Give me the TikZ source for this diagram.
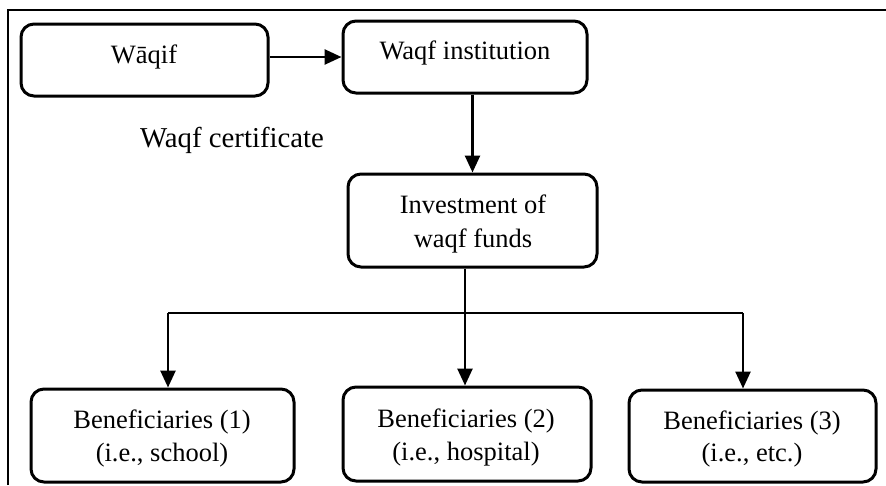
\documentclass[tikz,border=0pt]{standalone}
\usepackage{fontspec}
\setmainfont{Liberation Serif}
\usetikzlibrary{arrows.meta}
\begin{document}
\begin{tikzpicture}[x=1pt,y=-1pt,
  box/.style={draw, line width=3pt, rounded corners=13pt, inner sep=0pt},
  txt/.style={anchor=base, inner sep=0pt, font=\fontsize{26.5}{33}\selectfont},
  bigtxt/.style={anchor=base, inner sep=0pt, font=\fontsize{28.8}{34}\selectfont},
  conn/.style={line width=2.6pt, -{Triangle[length=17pt,width=15pt]}},
  branch/.style={line width=1.8pt},
  framestyle/.style={line width=2.6pt}]
\useasboundingbox (0,0) rectangle (886,485);
% outer frame (cut off at right and bottom)
\draw[framestyle] (8,485) -- (8,10) -- (886,10);
% boxes
\node[box, minimum width=247pt, minimum height=72pt] (waqif) at (144.5,60) {};
\node[box, minimum width=244pt, minimum height=72pt] (inst) at (465,57) {};
\node[box, minimum width=249pt, minimum height=93pt] (invest) at (472.5,220.5) {};
\node[box, minimum width=263pt, minimum height=93pt] (ben1) at (162.5,435.5) {};
\node[box, minimum width=248pt, minimum height=94pt] (ben2) at (467,434) {};
\node[box, minimum width=247pt, minimum height=92pt] (ben3) at (752.5,436) {};
% texts
\node[txt] (t1) at (144,63) {Wāqif};
\node[txt] (t2) at (465,59) {Waqf institution};
\node[bigtxt] (t3) at (232,147) {Waqf certificate};
\node[txt] (t4) at (473,213) {Investment of};
\node[txt] (t5) at (473,247) {waqf funds};
\node[txt] (t6) at (162,428) {Beneficiaries (1)};
\node[txt] (t7) at (162,461) {(i.e., school)};
\node[txt] (t8) at (466,427) {Beneficiaries (2)};
\node[txt] (t9) at (466,460) {(i.e., hospital)};
\node[txt] (t10) at (752,429) {Beneficiaries (3)};
\node[txt] (t11) at (752,461) {(i.e., etc.)};
% connectors
\draw[conn] (waqif.east |- inst.west) -- (inst.west);
\draw[conn] (invest.north |- inst.south) -- (invest.north);
\coordinate (j) at (465,313);
\coordinate (jl) at (168,313);
\coordinate (jr) at (743,313);
\draw[conn] (invest.south -| j) -- (j |- ben2.north);
\draw[branch] (jl) -- (jr);
\draw[conn] (jl) -- (jl |- ben1.north);
\draw[conn] (jr) -- (jr |- ben3.north);
\end{tikzpicture}
\end{document}
